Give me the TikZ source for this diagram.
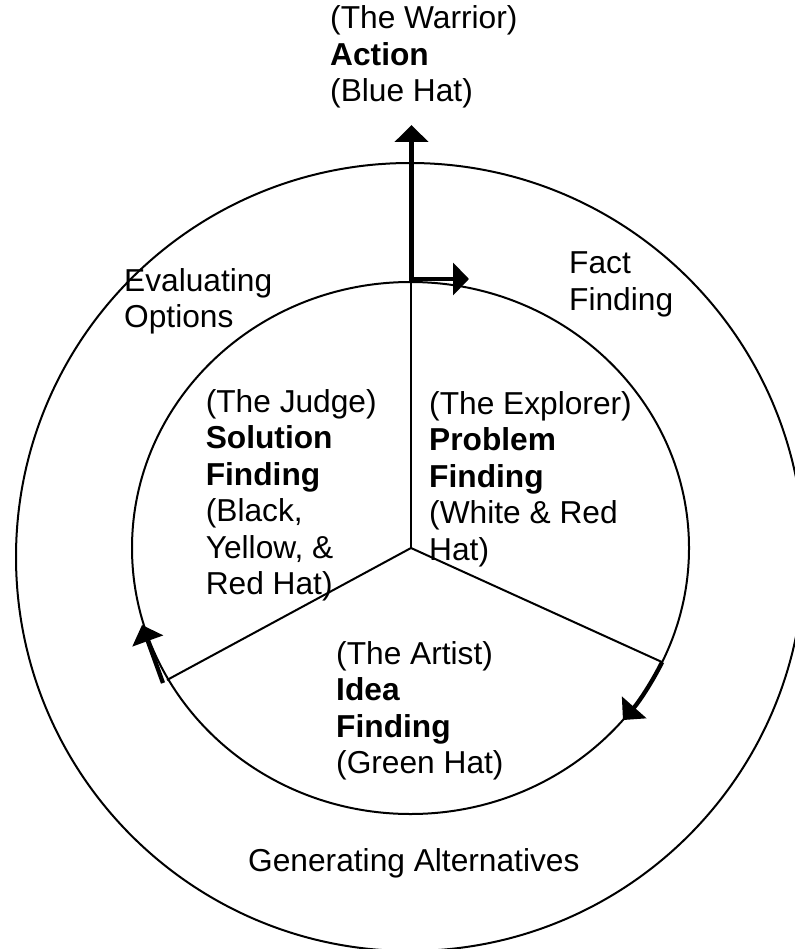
\documentclass[tikz,border=0pt]{standalone}
\usepackage{fontspec}
\setmainfont{Liberation Sans}
\usetikzlibrary{arrows.meta}
\begin{document}
\begin{tikzpicture}[x=1pt,y=-1pt,
  ring/.style={line width=2pt},
  spoke/.style={line width=2pt},
  flow/.style={line width=4.3pt},
  tipend/.style={-{Triangle[length=17pt,width=32pt]}},
  txt/.style={inner sep=0pt, anchor=base west, font=\fontsize{31.7}{36.5}\selectfont}]
\useasboundingbox (0,0) rectangle (794,949);
% circles
\draw[ring] (410,557) circle[radius=394];
\draw[ring] (410.5,548) ellipse[x radius=278.5, y radius=266];
% spoke coordinates
\coordinate (C) at (411,548);
\coordinate (T) at (411,282);
\coordinate (sR) at (662.1,662.1);
\coordinate (sL) at (167,680);
\draw[spoke] (C) -- (T);
\draw[spoke] (C) -- (sR);
\draw[spoke] (C) -- (sL);
% warrior arrows
\coordinate (K) at (411.5,279);
\coordinate (U) at (411.5,125);
\coordinate (Rt) at (469,279);
\draw[flow, {Triangle[length=17pt,width=33pt]}-{Triangle[length=16pt,width=32pt]}, line join=miter] (U) -- (K) -- (Rt);
% lower right arrow along inner circle
\draw[flow, tipend] (sR) arc[start angle=25.4, end angle=40.3, x radius=278.5, y radius=266];
% lower left arrow
\coordinate (lA) at (163,683);
\coordinate (lB) at (142,625);
\draw[flow, tipend] (lA) -- (lB);
% texts
\node[txt] (warrior) at (330,29) {\begin{tabular}[t]{@{}l@{}}(The Warrior)\\\textbf{Action}\\(Blue Hat)\end{tabular}};
\node[txt] (evaluating) at (124,291) {\begin{tabular}[t]{@{}l@{}}Evaluating\\Options\end{tabular}};
\node[txt] (fact) at (569,274) {\begin{tabular}[t]{@{}l@{}}Fact\\Finding\end{tabular}};
\node[txt] (judge) at (205.6,412) {\begin{tabular}[t]{@{}l@{}}(The Judge)\\\textbf{Solution}\\\textbf{Finding}\\(Black,\\Yellow, \&\\Red Hat)\end{tabular}};
\node[txt] (explorer) at (429,414) {\begin{tabular}[t]{@{}l@{}}(The Explorer)\\\textbf{Problem}\\\textbf{Finding}\\(White \& Red\\Hat)\end{tabular}};
\node[txt] (artist) at (336,664) {\begin{tabular}[t]{@{}l@{}}(The Artist)\\\textbf{Idea}\\\textbf{Finding}\\(Green Hat)\end{tabular}};
\node[txt] (generating) at (248,871) {Generating Alternatives};
\end{tikzpicture}
\end{document}
